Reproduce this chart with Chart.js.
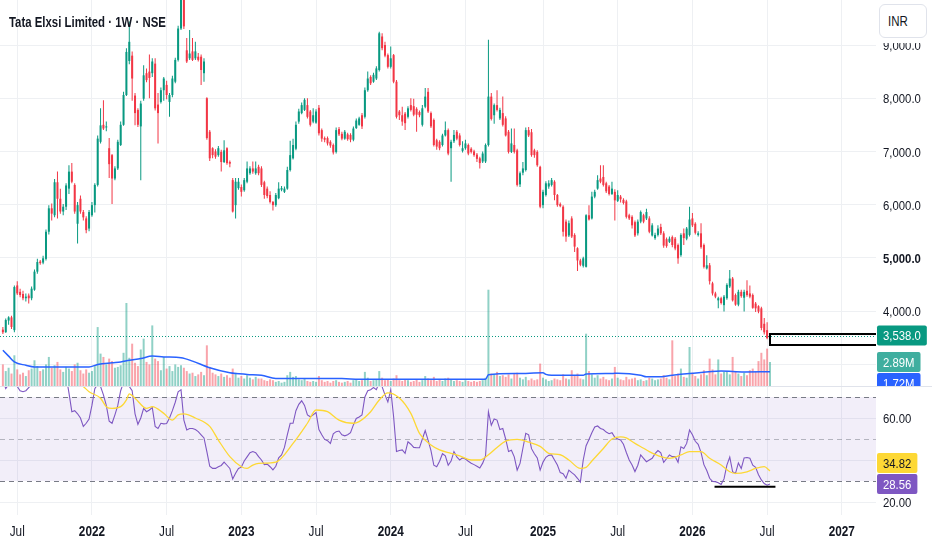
<!DOCTYPE html>
<html>
<head>
<meta charset="utf-8">
<script src="https://cdn.jsdelivr.net/npm/chart.js@4.4.1/dist/chart.umd.min.js"></script>
<style>
  html, body { margin: 0; padding: 0; background: #fff; }
  #wrap { position: relative; width: 932px; height: 550px; overflow: hidden; }
  #title { position: absolute; left: 9px; top: 13px; font: bold 15px 'Liberation Sans', sans-serif; color: #131722; white-space: nowrap; transform: scaleX(0.76); transform-origin: 0 0; }
  #cover { position: absolute; left: 877px; top: 0; width: 55px; height: 43px; background: #fff; }
  #cur { position: absolute; left: 879px; top: 4px; width: 48px; height: 34px; box-sizing: border-box; border: 1px solid #e0e3eb; border-radius: 6px; background: #fff; color: #131722; }
  #cur span { position: absolute; left: 8px; top: 8px; font: 14px 'Liberation Sans', sans-serif; transform: scaleX(0.82); transform-origin: 0 0; }
</style>
</head>
<body>
<div id="wrap">
  <canvas id="chart" width="932" height="550"></canvas>
  <div id="title">Tata Elxsi Limited · 1W · NSE</div>
  <div id="cover"></div>
  <div id="cur"><span>INR</span></div>
</div>
<script>
// weekly candles, first one is the week of 31 May 2021
const firstWeek = Date.UTC(2021, 4, 31);

const opens = [
  3650, 3600, 3820, 3880, 3640, 4480, 4360, 4320, 4240, 4290,
  4240, 4400, 4740, 4930, 4910, 4980, 5490, 5930, 5800, 6420,
  6110, 5870, 5960, 6300, 6620, 6370, 5640, 6110, 5860, 5740,
  5550, 5800, 5990, 6370, 7180, 7500, 7450, 7060, 6930, 6490,
  6680, 7120, 7500, 8060, 8700, 8800, 8050, 7780, 7470, 7990,
  8470, 8500, 8470, 8650, 7880, 7930, 8150, 8250, 7930, 8060,
  8310, 8720, 9310, 10000, 8900, 8750, 8880, 8750, 8780, 8780,
  8470, 8000, 7370, 7060, 7000, 6930, 6990, 6800, 7060, 6800,
  6460, 5990, 6310, 6330, 6270, 6430, 6590, 6680, 6590, 6710,
  6680, 6420, 6300, 6180, 6050, 5990, 6120, 6280, 6240, 6300,
  6650, 6870, 7050, 7560, 7720, 7780, 7870, 7750, 7560, 7540,
  7820, 7400, 7250, 7250, 7180, 7120, 6990, 7420, 7330, 7240,
  7320, 7310, 7220, 7440, 7500, 7680, 7650, 8150, 8400, 8310,
  8370, 8530, 9160, 9000, 8810, 8590, 8810, 8310, 7750, 7680,
  7710, 7650, 7870, 7850, 7800, 7740, 7500, 7840, 8120, 7720,
  7590, 7210, 7180, 7120, 7300, 7400, 7060, 7190, 7370, 7300,
  7010, 7060, 7120, 7050, 7000, 6940, 6870, 6810, 6810, 7120,
  8030, 7680, 7870, 7620, 7720, 7620, 7370, 6990, 7120, 7020,
  6380, 6600, 6650, 7400, 7360, 7020, 6990, 6710, 5990, 6180,
  6340, 6370, 6430, 6180, 6010, 5960, 5680, 5420, 5740, 5430,
  5180, 4950, 4850, 4830, 5800, 5740, 6150, 6300, 6490, 6520,
  6400, 6340, 6200, 6240, 6070, 6150, 6090, 6060, 5800, 5770,
  5670, 5460, 5680, 5800, 5740, 5740, 5420, 5370, 5430, 5580,
  5460, 5350, 5300, 5390, 5360, 5240, 5050, 5460, 5360, 5430,
  5740, 5640, 5430, 5460, 5240, 4800, 4860, 4520, 4330, 4200,
  4240, 4110, 4240, 4460, 4610, 4300, 4120, 4360, 4250, 4380,
  4330, 4300, 4140, 4090, 4050, 3760, 3640, 3370
];
const highs = [
  3700, 3860, 3900, 3910, 4480, 4560, 4420, 4380, 4330, 4330,
  4460, 4780, 4980, 4960, 5040, 5530, 5990, 6020, 6480, 6620,
  6300, 6010, 6400, 6740, 6780, 6400, 6050, 6170, 5900, 5780,
  5900, 6050, 6400, 7300, 7810, 7960, 7560, 7250, 6950, 6720,
  7220, 7560, 8120, 8940, 9440, 8880, 8100, 7810, 7950, 8620,
  8560, 8820, 8750, 8750, 8100, 8200, 8400, 8330, 8100, 8420,
  8760, 9360, 10100, 10200, 9130, 9280, 9130, 9060, 8850, 8820,
  8750, 8020, 7400, 7080, 7040, 7100, 7030, 7210, 7080, 6830,
  6500, 6500, 6500, 6380, 6500, 6810, 6720, 6810, 6810, 6750,
  6720, 6450, 6340, 6250, 6070, 6220, 6420, 6350, 6340, 6710,
  7200, 7240, 7560, 7800, 7920, 8000, 8000, 7780, 7810, 7790,
  7870, 7430, 7280, 7280, 7210, 7150, 7450, 7460, 7370, 7400,
  7350, 7340, 7470, 7620, 7650, 7720, 8200, 8500, 8430, 8480,
  8600, 9250, 9220, 9060, 8840, 8970, 8830, 8340, 7780, 7840,
  7740, 7850, 8000, 7990, 7830, 7770, 7870, 8190, 8190, 7750,
  7620, 7240, 7210, 7330, 7560, 7430, 7220, 7400, 7400, 7340,
  7190, 7220, 7150, 7080, 7030, 6970, 6900, 7000, 7150, 9100,
  8100, 7900, 8150, 7820, 8030, 7660, 7400, 7430, 7430, 7050,
  6620, 6800, 7450, 7460, 7420, 7050, 7020, 6730, 6280, 6440,
  6460, 6500, 6460, 6200, 6040, 5990, 5720, 5700, 5780, 5460,
  5200, 4980, 5020, 5820, 5990, 6240, 6280, 6550, 6740, 6740,
  6430, 6370, 6430, 6290, 6270, 6180, 6120, 6090, 5830, 5800,
  5700, 5720, 5890, 5830, 5920, 5780, 5650, 5470, 5610, 5640,
  5500, 5380, 5400, 5420, 5390, 5270, 5460, 5550, 5580, 5960,
  5840, 5670, 5500, 5650, 5270, 5050, 4900, 4550, 4360, 4270,
  4270, 4300, 4520, 4770, 4640, 4330, 4400, 4400, 4400, 4580,
  4480, 4330, 4170, 4110, 4080, 3870, 3790, 3560
];
const lows = [
  3570, 3590, 3740, 3660, 3600, 4300, 4260, 4200, 4180, 4140,
  4200, 4380, 4700, 4870, 4880, 4950, 5440, 5700, 5760, 5740,
  5830, 5800, 5900, 6200, 6400, 5830, 5270, 5830, 5700, 5460,
  5500, 5770, 5850, 6340, 7150, 7400, 7380, 6500, 6010, 6460,
  6650, 7100, 7480, 8040, 8640, 7950, 7490, 7460, 6460, 7950,
  8300, 8000, 8400, 7770, 7150, 7900, 7950, 7980, 7650, 8020,
  8280, 8690, 9280, 9300, 8660, 8720, 8700, 8720, 8690, 8250,
  8310, 7220, 6820, 6870, 6860, 6900, 6620, 6780, 6750, 6700,
  5850, 5740, 6280, 6150, 6240, 6400, 6560, 6580, 6560, 6550,
  6330, 6110, 6120, 6020, 5890, 5960, 6100, 6250, 6220, 6280,
  6620, 6850, 7020, 7520, 7700, 7760, 7620, 7470, 7530, 7520,
  7300, 7180, 7170, 7110, 7070, 6940, 6960, 7290, 7210, 7220,
  7200, 7170, 7190, 7420, 7480, 7420, 7620, 8120, 8250, 8290,
  8340, 8500, 8900, 8770, 8560, 8560, 8280, 7620, 7590, 7480,
  7400, 7620, 7750, 7660, 7370, 7640, 7470, 7810, 7720, 7440,
  7090, 7030, 7020, 7090, 7280, 6930, 6430, 7160, 7210, 7090,
  6980, 7030, 6930, 6960, 6900, 6800, 6680, 6780, 6780, 7090,
  7580, 7520, 7750, 7590, 7470, 7280, 6960, 6970, 6960, 6340,
  6330, 6550, 6620, 7270, 6900, 6880, 6710, 5930, 5930, 6150,
  6300, 6340, 6080, 5960, 5950, 5400, 5300, 5390, 5370, 5110,
  4750, 4840, 4820, 4820, 5700, 5720, 6120, 6280, 6400, 6340,
  6220, 6170, 6180, 5700, 6050, 6040, 6000, 5740, 5710, 5550,
  5390, 5420, 5650, 5650, 5710, 5460, 5400, 5340, 5400, 5430,
  5190, 5190, 5280, 5200, 5140, 4890, 5020, 5240, 5330, 5400,
  5580, 5440, 5400, 5170, 4800, 4780, 4500, 4290, 4240, 4050,
  4120, 3990, 4210, 4430, 4180, 4100, 4090, 4250, 3990, 4270,
  4240, 4040, 3980, 3960, 3640, 3560, 3470, 3350
];
const closes = [
  3600, 3830, 3880, 3700, 4450, 4330, 4300, 4240, 4270, 4240,
  4420, 4740, 4920, 4900, 4990, 5490, 5930, 5830, 6420, 6110,
  5870, 5960, 6360, 6620, 6430, 5870, 5990, 5870, 5760, 5520,
  5860, 5990, 6370, 7240, 7490, 7430, 7470, 6760, 6490, 6680,
  7180, 7500, 8060, 8870, 9060, 8370, 7720, 7500, 7900, 8430,
  8340, 8380, 8690, 7810, 7720, 8150, 8370, 8060, 8060, 8370,
  8720, 9310, 9900, 9350, 8690, 8840, 8720, 8880, 8720, 8530,
  8690, 7250, 6870, 6930, 6900, 7060, 6800, 7020, 6780, 6770,
  5870, 6430, 6430, 6240, 6460, 6680, 6680, 6620, 6680, 6590,
  6370, 6180, 6160, 6050, 5990, 6180, 6300, 6310, 6300, 6650,
  6930, 7120, 7500, 7750, 7870, 7970, 7650, 7500, 7680, 7750,
  7340, 7240, 7220, 7150, 7110, 6980, 7400, 7320, 7240, 7370,
  7230, 7220, 7430, 7580, 7620, 7470, 8150, 8370, 8280, 8440,
  8560, 9220, 8940, 8800, 8590, 8750, 8310, 7650, 7680, 7560,
  7530, 7810, 7780, 7690, 7690, 7680, 7810, 8030, 7750, 7470,
  7120, 7090, 7060, 7300, 7400, 6960, 7180, 7310, 7240, 7120,
  7060, 7150, 6960, 6990, 6930, 6860, 6780, 6960, 7120, 8030,
  7610, 7870, 7780, 7780, 7500, 7300, 6990, 7150, 6990, 6370,
  6590, 6680, 7400, 7300, 6930, 6930, 6740, 5960, 6240, 6400,
  6400, 6460, 6180, 5990, 5970, 5490, 5400, 5650, 5400, 5210,
  4950, 4870, 4990, 5800, 5720, 6150, 6240, 6460, 6430, 6370,
  6250, 6200, 6300, 6080, 6180, 6100, 6030, 5770, 5740, 5610,
  5420, 5680, 5860, 5680, 5860, 5490, 5610, 5430, 5550, 5460,
  5230, 5220, 5360, 5240, 5175, 4990, 5430, 5370, 5550, 5720,
  5610, 5470, 5460, 5200, 4830, 4860, 4560, 4330, 4270, 4240,
  4150, 4270, 4490, 4610, 4200, 4120, 4360, 4280, 4360, 4300,
  4270, 4060, 4050, 3990, 3680, 3600, 3490, 3538
];
// volume in millions of shares
const volumes = [
  2.6, 1.8, 2.2, 1.5, 3.7, 2.0, 1.4, 1.6, 1.2, 1.9,
  2.1, 3.1, 2.4, 1.8, 2.0, 2.6, 3.5, 2.2, 2.5, 2.9,
  2.0, 1.7, 2.3, 2.1, 1.8, 2.6, 2.8, 1.9, 1.5, 2.0,
  1.6, 1.8, 2.4, 7.1, 3.9, 3.5, 2.6, 3.3, 3.0, 2.2,
  2.3, 2.5, 4.0, 10.0, 3.4, 5.1, 2.8, 2.4, 4.4, 5.7,
  2.9, 2.6, 7.3, 3.3, 3.0, 1.9, 3.5, 2.1, 2.4, 1.8,
  2.6, 2.3, 2.5, 2.2, 1.8, 1.5, 1.6, 1.2, 1.4, 1.7,
  1.3, 4.9, 2.3, 1.6, 1.4, 1.2, 1.5, 1.1, 1.3, 1.0,
  2.1, 1.6, 1.0, 1.2, 0.9, 1.3, 1.0, 0.8, 1.1, 0.9,
  0.9, 0.7, 0.6, 0.8, 0.7, 0.5, 0.6, 0.4, 0.5, 1.3,
  1.7, 1.1, 1.2, 0.8, 0.7, 0.9, 0.6, 0.5, 0.6, 0.5,
  1.2, 0.7, 0.5, 0.6, 0.4, 0.6, 0.7, 0.5, 0.4, 0.5,
  0.6, 0.4, 0.7, 0.8, 0.6, 0.7, 1.7, 1.0, 0.6, 0.7,
  0.8, 1.8, 1.0, 0.7, 0.8, 0.6, 0.9, 1.3, 0.7, 0.6,
  0.8, 0.7, 0.5, 0.6, 0.8, 0.5, 0.7, 1.2, 0.9, 0.7,
  1.1, 0.6, 0.8, 0.6, 0.9, 1.0, 0.8, 0.6, 0.7, 0.6,
  0.5, 0.7, 0.6, 0.5, 0.6, 0.5, 0.6, 0.7, 1.0, 11.6,
  1.5, 1.4, 1.7, 1.2, 1.3, 1.1, 1.4, 0.9, 1.5, 1.6,
  1.0, 0.8, 1.1, 0.7, 0.9, 0.7, 0.8, 2.7, 1.0, 0.8,
  0.6, 0.7, 0.9, 0.8, 0.7, 1.4, 0.9, 0.8, 1.9, 1.2,
  1.5, 0.9, 0.8, 6.3, 1.8, 1.4, 1.0, 1.3, 0.9, 1.1,
  0.8, 0.7, 0.9, 2.3, 1.0, 0.8, 0.7, 1.1, 0.8, 0.9,
  1.0, 0.7, 0.8, 0.6, 0.7, 1.0, 0.9, 0.7, 0.8, 0.9,
  1.3, 1.0, 0.8, 5.5, 1.2, 1.5, 2.1, 1.1, 1.0, 4.7,
  1.6, 1.2, 0.9, 1.4, 1.9, 1.3, 3.3, 2.0, 1.4, 3.2,
  1.5, 1.7, 1.8, 1.4, 3.5, 1.8, 1.5, 1.2, 1.6, 1.3,
  1.9, 2.1, 1.7, 3.0, 4.0, 3.2, 4.5, 2.89
];
// volume moving average, read at a few weeks
const volMaWeeks = [0, 2, 4, 8, 11, 20, 30, 33, 38, 41, 44, 48, 52, 56, 62, 66, 72, 79, 85, 90, 95, 118, 124, 168, 169, 179, 188, 189, 191, 202, 203, 212, 214, 222, 224, 228, 233, 239, 250, 258, 267];
const volMaValues = [4.3, 3.6, 2.9, 2.5, 2.3, 2.3, 2.3, 2.6, 2.8, 2.9, 3.1, 3.3, 3.6, 3.5, 3.4, 3.0, 2.2, 1.6, 1.4, 1.3, 0.9, 0.9, 0.8, 0.8, 1.35, 1.5, 1.6, 1.4, 1.3, 1.3, 1.45, 1.5, 1.55, 1.3, 1.1, 1.1, 1.3, 1.5, 1.8, 1.7, 1.72];

const rsiValues = [
  78, 74, 76, 79, 84, 75, 73, 72.5, 73, 74.5,
  76, 80, 83, 82, 83, 87, 88, 86, 87, 83,
  80, 78, 80, 72, 63, 63.5, 62, 60, 56, 57.5,
  59.5, 66, 74, 76, 75, 71, 66, 58.5, 57.5, 61.5,
  66, 73, 77, 80, 75, 73, 62, 57, 60, 64.6,
  63, 63.8, 65, 56, 55, 57.5, 57.2, 57.4, 60, 63.5,
  67.5, 72.5, 73.5, 59, 54.3, 55, 55, 54.5, 53.5, 52,
  50.5, 44, 37, 36, 36, 36.8, 37.4, 39, 37.5, 36,
  31, 33.7, 36, 36.6, 39.5, 41.5, 43.5, 44, 43.5, 41.6,
  40, 37.8, 38, 36.8, 35.3, 37, 41, 42.4, 46, 52,
  57.5, 57.5, 63.5, 66.5, 68.2, 66, 61.5, 60.6, 61.5, 62.6,
  54.5, 52, 49.8, 49.2, 47.9, 52.5, 53.5, 53.8, 52, 51.5,
  52, 53, 56.7, 59.8, 60.5, 61.5, 70, 73, 73.5, 74.5,
  73.5, 77, 74.9, 71, 67.6, 73.5, 60.6, 44, 44.5, 44.8,
  43.2, 48.7, 47.5, 46, 45.8, 45.8, 50, 54, 49.5, 44.5,
  37.5, 36.8, 39.4, 43, 42, 37.5, 39.5, 44, 41.5, 40,
  41, 40.5, 39.4, 38.5, 37.8, 37, 36.2, 38.5, 42, 63,
  56.5, 59.5, 59, 54.5, 55, 50, 44, 44.6, 41.5, 35.2,
  38.4, 45.6, 52.7, 52, 45.4, 43, 41, 35.2, 39, 41.3,
  42.2, 42.4, 40, 37.6, 34, 33.5, 31.3, 35.2, 34, 32.9,
  31.3, 29.5, 40, 46.8, 49.8, 53, 55.7, 56.2, 55, 54.5,
  53.3, 52.5, 53, 50.8, 50, 49.5, 47.5, 43.6, 40, 37.6,
  34.5, 37.5, 42.4, 40.8, 39.2, 40, 40.8, 43, 44.5, 43.4,
  38.9, 40.6, 42.4, 41.6, 41.6, 38.9, 46.3, 45.5, 47.9, 54.3,
  52, 48.9, 47.5, 43.6, 37.8, 35, 31.3, 29.8, 29.7, 29.2,
  28.4, 31, 37.6, 41.4, 34.4, 33.6, 38.6, 36, 41, 41.2,
  40.8, 37.5, 36.5, 33, 30.5, 28.8, 28.0, 28.56
];
// RSI-based moving average, read at a few weeks
const rsiMaWeeks = [0, 4, 9, 14, 19, 24, 28, 30, 34, 36, 38, 41, 43, 44, 46, 50, 52, 56, 59, 61, 63, 67, 72, 75, 79, 83, 85, 87, 89, 95, 101, 106, 109, 113, 117, 122, 124, 128, 131, 134, 138, 142, 145, 149, 152, 156, 159, 163, 166, 169, 172, 175, 179, 183, 187, 190, 194, 197, 201, 203, 205, 209, 212, 215, 217, 220, 223, 225, 229, 232, 236, 239, 243, 246, 250, 253, 255, 259, 262, 265, 267];
const rsiMaValues = [79, 78, 75.5, 79, 82, 79, 75, 72.5, 69.4, 65.4, 64.6, 65.4, 68.6, 71.5, 69.4, 64.6, 65.4, 62.2, 59, 61.5, 62, 60, 56, 49.5, 41.6, 36.8, 36, 37.6, 38.4, 39, 47.9, 57.5, 63.8, 63, 59, 57.5, 58.3, 63, 68.6, 72, 69.5, 62.2, 52.7, 47.1, 44.8, 43.2, 42, 40, 40, 42.5, 46, 49, 49.8, 48.5, 46.5, 43.2, 42.5, 40, 36, 36.5, 39.5, 45.5, 50, 51, 50.5, 47.9, 45.6, 44, 41.6, 40.8, 42.4, 44, 44, 40.8, 37.6, 34.4, 33.6, 34.4, 36, 36.8, 34.82];

const priceTicks = [3000, 4000, 5000, 6000, 7000, 8000, 9000];
const rsiTicks = [20, 40, 60];
const rsiBands = [70, 50, 30];
const lastPrice = 3538.0, lastVolume = 2.89, lastVolMa = 1.72, lastRsi = 28.56, lastRsiMa = 34.82;
// drawings on the chart: price box at the right, support line on the RSI
const boxPrices = [3568, 3361];
const rsiMark = { fromWeek: 247.7, toWeek: 268.9, level: 27.3 };

const FONT = "'Liberation Sans', Arial, sans-serif";
const SQUEEZE = 0.84;   // the screenshot's lettering is narrow
const UP = '#089981', DOWN = '#F23645', GRID = '#eef0f3', TEXT = '#131722';

Chart.defaults.font.family = FONT;
Chart.defaults.color = TEXT;

const idx = closes.map((_, i) => i);
const isUp = i => closes[i] >= opens[i];
const candleColors = idx.map(i => isUp(i) ? UP : DOWN);
const volColors = idx.map(i => isUp(i) ? 'rgba(8,153,129,0.45)' : 'rgba(242,54,69,0.45)');

const DAY = 86400000;
const weekDate = i => new Date(firstWeek + i * 7 * DAY);
const timeTicks = [];
for (let i = -1; i <= 305; i++) {
  const m = weekDate(i).getUTCMonth();
  if (m !== weekDate(i - 1).getUTCMonth() && (m === 0 || m === 6)) timeTicks.push(i);
}
const fmtPrice = v => v.toLocaleString('en-US', { minimumFractionDigits: 1, maximumFractionDigits: 1 });

function hline(ctx, x1, x2, y) {
  ctx.beginPath(); ctx.moveTo(x1, y); ctx.lineTo(x2, y); ctx.stroke();
}

// narrow text, like the original lettering
function text(ctx, str, x, y, align, weight, size) {
  ctx.save();
  ctx.font = (weight || 'normal') + ' ' + (size || 13.5) + 'px ' + FONT;
  ctx.textAlign = align;
  ctx.textBaseline = 'middle';
  ctx.translate(x, y);
  ctx.scale(SQUEEZE, 1);
  ctx.fillText(str, 0, 0);
  ctx.restore();
}

function tag(ctx, x, y, str, bg, fg, clipTop, clipBottom) {
  ctx.save();
  ctx.beginPath();
  ctx.rect(x, clipTop, 60, clipBottom - clipTop);
  ctx.clip();
  ctx.font = '13.5px ' + FONT;
  const w = ctx.measureText(str).width * SQUEEZE + 12;
  ctx.fillStyle = bg;
  ctx.beginPath();
  ctx.roundRect(x + 1, y - 10, w, 20, 2);
  ctx.fill();
  ctx.fillStyle = fg;
  text(ctx, str, x + 7, y + 1, 'left');
  ctx.restore();
}

const panes = {
  id: 'panes',
  beforeDatasetsDraw(chart) {
    const { ctx, chartArea: a, scales } = chart;
    const split = scales.yv.getPixelForValue(0);
    ctx.save();
    ctx.lineWidth = 1;
    ctx.strokeStyle = GRID;
    rsiTicks.forEach(v => hline(ctx, a.left, a.right, Math.round(scales.yr.getPixelForValue(v)) + 0.5));
    const top = scales.yr.getPixelForValue(rsiBands[0]);
    const bot = scales.yr.getPixelForValue(rsiBands[2]);
    ctx.fillStyle = 'rgba(126,87,194,0.1)';
    ctx.fillRect(a.left, top, a.width, bot - top);
    ctx.setLineDash([5, 4]);
    rsiBands.forEach((v, k) => {
      ctx.strokeStyle = k === 1 ? 'rgba(120,123,134,0.5)' : '#787B86';
      hline(ctx, a.left, a.right, Math.round(scales.yr.getPixelForValue(v)) + 0.5);
    });
    ctx.setLineDash([1, 2]);
    ctx.strokeStyle = UP;
    hline(ctx, a.left, a.right, Math.round(scales.y.getPixelForValue(lastPrice)) + 0.5);
    ctx.setLineDash([]);
    ctx.strokeStyle = '#e0e3eb';
    hline(ctx, 0, chart.width, Math.round(split) + 0.5);
    ctx.restore();
  },
  beforeDatasetDraw(chart, args) {
    const { ctx, chartArea: a } = chart;
    const split = chart.scales.yv.getPixelForValue(0);
    const ds = chart.data.datasets[args.index];
    ctx.save();
    ctx.beginPath();
    if (ds.pane === 'rsi') ctx.rect(a.left, split + 1, a.width, a.bottom - split - 1);
    else ctx.rect(a.left, a.top, a.width, split - a.top);
    ctx.clip();
  },
  afterDatasetDraw(chart) {
    chart.ctx.restore();
  },
  afterDatasetsDraw(chart) {
    const { ctx, chartArea: a, scales } = chart;
    ctx.save();
    ctx.strokeStyle = '#000';
    ctx.lineWidth = 2;
    const x0 = scales.x.getPixelForValue(idx.length - 1);
    const y1 = scales.y.getPixelForValue(boxPrices[0]);
    const y2 = scales.y.getPixelForValue(boxPrices[1]);
    ctx.beginPath();
    ctx.moveTo(a.right, y1); ctx.lineTo(x0, y1); ctx.lineTo(x0, y2); ctx.lineTo(a.right, y2);
    ctx.stroke();
    const ry = scales.yr.getPixelForValue(rsiMark.level);
    hline(ctx, scales.x.getPixelForValue(rsiMark.fromWeek), scales.x.getPixelForValue(rsiMark.toWeek), ry);
    ctx.restore();
  },
  afterDraw(chart) {
    const { ctx, chartArea: a, scales } = chart;
    const split = scales.yv.getPixelForValue(0);
    ctx.save();
    ctx.fillStyle = TEXT;
    // time axis
    scales.x.ticks.forEach(t => {
      const d = weekDate(t.value);
      const jan = d.getUTCMonth() === 0;
      text(ctx, jan ? String(d.getUTCFullYear()) : 'Jul', scales.x.getPixelForValue(t.value), a.bottom + 17, 'center', jan ? 'bold' : 'normal', 14);
    });
    // price axis (3,000.0 sits under the volume labels)
    scales.y.ticks.forEach(t => {
      if (t.value === 3000) return;
      text(ctx, fmtPrice(t.value), a.right + 7, scales.y.getPixelForValue(t.value) + 1.5, 'left', t.value === 5000 ? 'bold' : 'normal');
    });
    // RSI axis
    rsiTicks.forEach(v => text(ctx, v.toFixed(2), a.right + 7, scales.yr.getPixelForValue(v) + 1.5, 'left'));
    ctx.restore();

    tag(ctx, a.right, scales.y.getPixelForValue(lastPrice), fmtPrice(lastPrice), UP, '#fff', 0, split);
    const vy = scales.yv.getPixelForValue(lastVolume);
    tag(ctx, a.right, vy, lastVolume.toFixed(2) + 'M', '#3fae9f', '#fff', 0, split);
    const my = Math.max(scales.yv.getPixelForValue(lastVolMa), vy + 21);
    tag(ctx, a.right, my, lastVolMa.toFixed(2) + 'M', '#2962FF', '#fff', 0, split);
    const ry = scales.yr.getPixelForValue(lastRsi);
    const may = Math.min(scales.yr.getPixelForValue(lastRsiMa), ry - 21);
    tag(ctx, a.right, may, lastRsiMa.toFixed(2), '#FDD835', TEXT, split, chart.height);
    tag(ctx, a.right, ry, lastRsi.toFixed(2), '#7E57C2', '#fff', split, chart.height);
  }
};

new Chart(document.getElementById('chart'), {
  type: 'bar',
  data: {
    datasets: [
      { label: 'Bodies', pane: 'price', yAxisID: 'y', order: 1, grouped: false,
        data: idx.map(i => ({ x: i, y: [opens[i], closes[i]] })),
        backgroundColor: candleColors, barThickness: 2, minBarLength: 1, inflateAmount: 0 },
      { label: 'Wicks', pane: 'price', yAxisID: 'y', order: 2, grouped: false,
        data: idx.map(i => ({ x: i, y: [lows[i], highs[i]] })),
        backgroundColor: candleColors, barThickness: 1, inflateAmount: 0 },
      { type: 'line', label: 'Volume MA', pane: 'price', yAxisID: 'yv', order: 3,
        data: volMaWeeks.map((w, k) => ({ x: w, y: volMaValues[k] })),
        borderColor: '#2962FF', borderWidth: 1.5, pointRadius: 0, cubicInterpolationMode: 'monotone' },
      { label: 'Volume', pane: 'price', yAxisID: 'yv', order: 4, grouped: false,
        data: idx.map(i => ({ x: i, y: volumes[i] })),
        backgroundColor: volColors, barThickness: 2, inflateAmount: 0 },
      { type: 'line', label: 'RSI-based MA', pane: 'rsi', yAxisID: 'yr', order: 5,
        data: rsiMaWeeks.map((w, k) => ({ x: w, y: rsiMaValues[k] })),
        borderColor: '#FDD835', borderWidth: 1.3, pointRadius: 0, cubicInterpolationMode: 'monotone' },
      { type: 'line', label: 'RSI', pane: 'rsi', yAxisID: 'yr', order: 6,
        data: idx.map(i => ({ x: i, y: rsiValues[i] })),
        borderColor: '#7E57C2', borderWidth: 1.1, pointRadius: 0 }
    ]
  },
  options: {
    responsive: false,
    animation: false,
    events: [],
    layout: { padding: 0 },
    plugins: { legend: { display: false }, tooltip: { enabled: false } },
    scales: {
      x: {
        type: 'linear', position: 'bottom', min: -1.0, max: 303.9, offset: false,
        grid: { color: GRID, drawTicks: false, offset: false },
        border: { display: false },
        afterBuildTicks: s => { s.ticks = timeTicks.map(v => ({ value: v })); },
        afterFit: s => { s.height = 35; s.paddingLeft = 0; s.paddingRight = 0; },
        ticks: { display: false, autoSkip: false }
      },
      y: {
        position: 'right', min: 165.4, max: 9845.9,
        grid: { color: GRID, drawTicks: false },
        border: { display: false },
        afterBuildTicks: s => { s.ticks = priceTicks.map(v => ({ value: v })); },
        afterFit: s => { s.width = 56; s.paddingTop = 0; s.paddingBottom = 0; },
        ticks: { display: false }
      },
      yv: { display: false, min: -15.54, max: 46.5 },
      yr: { display: false, min: 13.81, max: 259.05 }
    }
  },
  plugins: [panes]
});
</script>
</body>
</html>
